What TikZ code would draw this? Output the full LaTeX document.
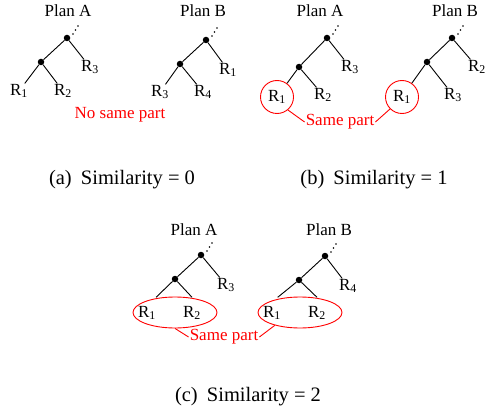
\documentclass[tikz,border=0pt]{standalone}
\usepackage{fontspec}
\setmainfont{Liberation Serif}
\usetikzlibrary{shapes.geometric}
\newcommand\mytopdots[1]{\foreach \dx/\dy in {6/-4,8.5/-8,11/-12}{\fill (#1) ++(\dx,\dy) circle (0.95pt);}}
\begin{document}
\begin{tikzpicture}[x=1pt,y=-1pt,
  dotn/.style={circle,fill=black,inner sep=0pt,minimum size=6.5pt},
  lbl/.style={font=\fontsize{17}{17}\selectfont,inner sep=0.5pt},
  tall/.style={lbl,minimum height=31pt},
  plan/.style={font=\fontsize{17}{17}\selectfont,inner sep=0pt,anchor=base},
  sametxt/.style={text=red,font=\fontsize{17}{17}\selectfont,inner sep=1pt},
  captxt/.style={font=\fontsize{20.5}{20.5}\selectfont,inner sep=0pt,anchor=base},
  redc/.style={draw=red,circle,minimum size=33pt,line width=0.9pt},
  rede/.style={draw=red,ellipse,minimum width=84pt,minimum height=31pt,line width=0.9pt},
  edgeln/.style={line width=0.9pt},
  redline/.style={red,line width=0.9pt}
]
\useasboundingbox (0,0) rectangle (490,409);

% ---------- (a) ----------
\node[plan] (aPA) at (68,16.5) {Plan A};
\node[plan] (aPB) at (203,16.5) {Plan B};
\node[dotn] (aA1) at (67,38) {};
\node[dotn] (aA2) at (41,62) {};
\node[lbl] (aAR1) at (19,91) {R\textsubscript{1}};
\node[lbl] (aAR2) at (63,91) {R\textsubscript{2}};
\node[lbl] (aAR3) at (90,67) {R\textsubscript{3}};
\draw[edgeln] (aA1) -- (aA2) (aA1) -- (aAR3) (aA2) -- (aAR1) (aA2) -- (aAR2);
\mytopdots{aA1}
\node[dotn] (aB1) at (206,40) {};
\node[dotn] (aB2) at (180,64) {};
\node[lbl] (aBR1) at (228,70) {R\textsubscript{1}};
\node[lbl] (aBR3) at (160,92) {R\textsubscript{3}};
\node[lbl] (aBR4) at (203,92) {R\textsubscript{4}};
\draw[edgeln] (aB1) -- (aB2) (aB1) -- (aBR1) (aB2) -- (aBR3) (aB2) -- (aBR4);
\mytopdots{aB1}
\node[sametxt] (aNo) at (120,115) {No same part};
\node[captxt] (aCap) at (122,184) {(a)\hspace{4pt} Similarity = 0};

% ---------- (b) ----------
\node[plan] (bPA) at (320,16.5) {Plan A};
\node[plan] (bPB) at (455,16.5) {Plan B};
\node[dotn] (bA1) at (327,38) {};
\node[dotn] (bA2) at (299,67) {};
\node[lbl,redc] (bAR1) at (277,97) {R\textsubscript{1}};
\node[lbl] (bAR2) at (323,95) {R\textsubscript{2}};
\node[lbl] (bAR3) at (350,67) {R\textsubscript{3}};
\draw[edgeln] (bA1) -- (bA2) (bA1) -- (bAR3) (bA2) -- (bAR1) (bA2) -- (bAR2);
\mytopdots{bA1}
\node[dotn] (bB1) at (452,38) {};
\node[dotn] (bB2) at (427,62) {};
\node[lbl,redc] (bBR1) at (402,97) {R\textsubscript{1}};
\node[lbl] (bBR2) at (477,67) {R\textsubscript{2}};
\node[lbl] (bBR3) at (453,95) {R\textsubscript{3}};
\draw[edgeln] (bB1) -- (bB2) (bB1) -- (bBR2) (bB2) -- (bBR1) (bB2) -- (bBR3);
\mytopdots{bB1}
\node[sametxt] (bSame) at (340,122) {Same part};
\draw[redline] (bAR1.-50) -- (bSame.west);
\draw[redline] (bBR1.-135) -- (bSame.east);
\node[captxt] (bCap) at (374,184) {(b)\hspace{4pt} Similarity = 1};

% ---------- (c) ----------
\node[plan] (cPA) at (194,235) {Plan A};
\node[plan] (cPB) at (329,235) {Plan B};
\node[dotn] (cA1) at (201,255) {};
\node[dotn] (cA2) at (175,279) {};
\node[rede] (cEA) at (175,312.5) {};
\node[tall] (cAR1) at (147,313) {R\textsubscript{1}};
\node[tall] (cAR2) at (192,313) {R\textsubscript{2}};
\node[lbl] (cAR3) at (226,285) {R\textsubscript{3}};
\draw[edgeln] (cA1) -- (cA2) (cA1) -- (cAR3) (cA2) -- (cAR1.60) (cA2) -- (cAR2.north);
\mytopdots{cA1}
\node[dotn] (cB1) at (325,256) {};
\node[dotn] (cB2) at (299,280) {};
\node[rede] (cEB) at (300,312.5) {};
\node[tall] (cBR1) at (272,313) {R\textsubscript{1}};
\node[tall] (cBR2) at (317,313) {R\textsubscript{2}};
\node[lbl] (cBR4) at (348,286) {R\textsubscript{4}};
\draw[edgeln] (cB1) -- (cB2) (cB1) -- (cBR4) (cB2) -- (cBR1.70) (cB2) -- (cBR2.north);
\mytopdots{cB1}
\node[sametxt] (cSame) at (224,337) {Same part};
\draw[redline] (cEA.south) -- (cSame.west);
\draw[redline] (cEB.207) -- (cSame.east);
\node[captxt] (cCap) at (248,401) {(c)\hspace{4pt} Similarity = 2};
\end{tikzpicture}
\end{document}
